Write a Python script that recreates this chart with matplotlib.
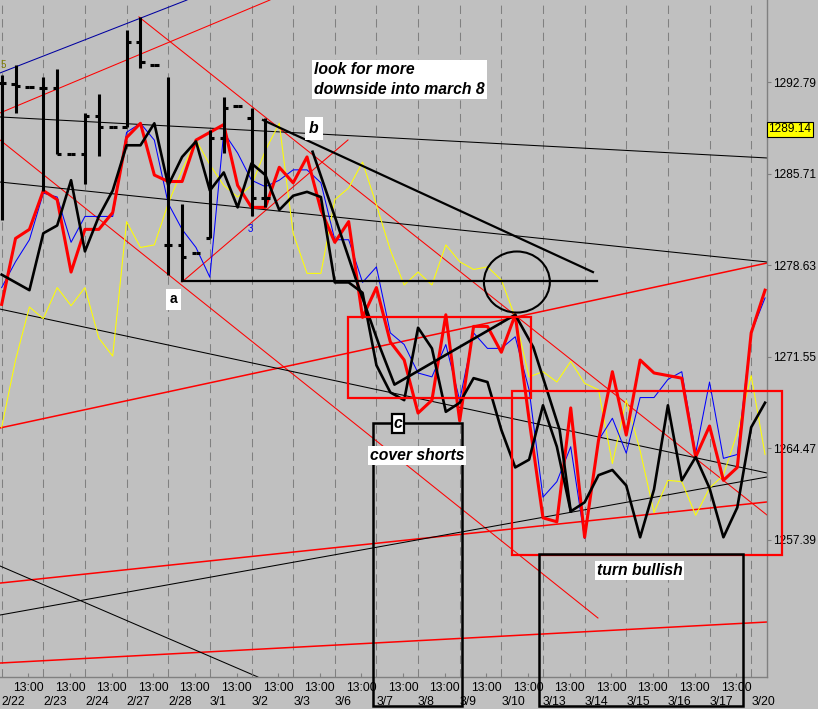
import matplotlib.pyplot as plt
from matplotlib.patches import Rectangle, Ellipse

plt.rcParams['font.family'] = ['Liberation Sans', 'DejaVu Sans']

# trading days, 3 bars per day
days = ['2/22', '2/23', '2/24', '2/27', '2/28', '3/1', '3/2', '3/3', '3/6', '3/7',
        '3/8', '3/9', '3/10', '3/13', '3/14', '3/15', '3/16', '3/17', '3/20']
price_ticks = [1292.79, 1285.71, 1278.63, 1271.55, 1264.47, 1257.39]
last_price = 1289.14

red = [1275.6, 1280.7, 1281.4, 1284.4, 1283.7, 1278.1, 1281.4, 1281.4, 1282.7, 1288.5,
       1289.6, 1285.6, 1285.1, 1285.1, 1288.3, 1288.9, 1289.5, 1284.8, 1283.1, 1283.1,
       1286.2, 1285.0, 1287.0, 1282.9, 1280.4, 1282.0, 1274.6, 1276.9, 1272.7, 1271.3,
       1267.2, 1268.2, 1274.8, 1266.6, 1273.9, 1273.9, 1271.9, 1274.8, 1266.7, 1259.1,
       1258.8, 1267.6, 1257.6, 1265.1, 1270.4, 1265.5, 1271.3, 1270.3, 1270.1, 1269.9,
       1263.8, 1266.2, 1262.0, 1263.0, 1273.4, 1276.7]
blue = [1276.9, 1278.9, 1280.6, 1284.2, 1283.9, 1280.4, 1282.4, 1282.4, 1282.4, 1288.9,
        1289.6, 1288.3, 1283.4, 1281.4, 1280.0, 1277.7, 1288.9, 1287.3, 1285.2, 1284.7,
        1285.2, 1286.0, 1286.0, 1285.0, 1280.6, 1280.6, 1277.3, 1278.5, 1273.4, 1272.5,
        1270.3, 1270.0, 1272.5, 1268.2, 1273.4, 1272.2, 1272.2, 1273.1, 1269.0, 1260.7,
        1261.9, 1264.6, 1257.5, 1265.1, 1266.8, 1264.1, 1268.4, 1268.4, 1269.8, 1270.4,
        1264.1, 1269.6, 1263.7, 1264.0, 1273.4, 1276.1]
black = [1277.9, 1277.3, 1276.7, 1281.1, 1281.7, 1285.2, 1279.7, 1282.4, 1284.4, 1287.9,
         1287.9, 1289.6, 1284.8, 1287.0, 1288.2, 1284.4, 1285.8, 1283.1, 1286.5, 1285.6,
         1282.9, 1284.0, 1284.3, 1283.9, 1277.3, 1277.3, 1276.5, 1270.9, 1268.8, 1268.2,
         1273.8, 1272.2, 1267.3, 1268.0, 1269.9, 1269.6, 1265.9, 1263.0, 1263.6, 1267.8,
         1264.6, 1259.6, 1260.3, 1262.4, 1262.8, 1261.6, 1257.6, 1261.3, 1267.8, 1262.0,
         1263.8, 1261.4, 1257.6, 1259.9, 1266.1, 1268.0]
yellow = [1266.1, 1271.3, 1275.4, 1274.5, 1276.9, 1275.5, 1276.9, 1273.0, 1271.6, 1282.0,
          1280.0, 1280.2, 1283.4, 1286.0, 1288.3, 1286.4, 1284.8, 1283.9, 1284.8, 1287.5,
          1289.6, 1281.1, 1278.0, 1278.0, 1283.7, 1284.6, 1286.6, 1283.3, 1279.8, 1277.1,
          1278.1, 1277.1, 1280.2, 1278.9, 1278.3, 1278.5, 1277.5, 1274.6, 1270.0, 1270.4,
          1269.6, 1271.2, 1269.5, 1269.0, 1263.3, 1268.2, 1264.3, 1259.5, 1262.0, 1261.9,
          1259.3, 1261.4, 1262.4, 1265.7, 1270.1, 1264.0]

# second black line (projection)
proj_x = [22.4, 24.0, 25.6, 27.25, 28.3, 37.0, 38.3, 40.2, 41.0]
proj_y = [1287.4, 1282.4, 1277.3, 1272.3, 1269.4, 1274.8, 1272.3, 1265.9, 1259.6]

# bars at the start of the chart
ohlc_open = [1292.7, 1292.6, 1292.4, 1292.3, 1292.3, 1287.2, 1287.2, 1290.2, 1289.3, 1289.3,
             1295.9, 1294.1, 1280.2, 1280.2, 1279.6, 1280.7, 1288.5, 1290.9, 1290.0, 1283.8]
ohlc_high = [1293.3, 1294.1, 1292.4, 1293.2, 1293.8, 1287.2, 1290.4, 1291.9, 1289.3, 1296.8,
             1297.8, 1294.1, 1293.2, 1283.4, 1279.6, 1289.1, 1291.6, 1290.9, 1290.8, 1290.0]
ohlc_low = [1282.1, 1290.4, 1292.4, 1284.4, 1287.2, 1287.2, 1284.9, 1287.1, 1289.3, 1289.3,
            1293.9, 1294.1, 1277.9, 1277.5, 1279.6, 1280.7, 1287.3, 1290.9, 1282.4, 1283.1]
ohlc_close = [1292.7, 1292.5, 1292.4, 1292.3, 1287.2, 1287.2, 1290.2, 1289.3, 1289.3, 1295.9,
              1294.3, 1294.1, 1280.2, 1279.3, 1279.6, 1288.5, 1290.8, 1290.9, 1283.8, 1283.8]

# hand drawn trend lines: x0, p0, x1, p1
red_lines = [(-0.12, 1290.40, 19.33, 1299.13), (9.89, 1297.82, 55.14, 1259.32),
             (-0.12, 1288.31, 42.96, 1251.36), (12.99, 1277.33, 24.95, 1288.31)]
red_lines_2 = [(-0.12, 1266.05, 55.14, 1278.80), (-0.12, 1254.06, 55.14, 1260.33),
               (-0.12, 1247.88, 55.14, 1251.05)]
black_lines = [(-0.12, 1290.09, 55.14, 1286.92), (-0.12, 1285.06, 55.14, 1278.88),
               (-0.12, 1275.24, 55.14, 1262.57), (-0.12, 1251.59, 55.14, 1262.26),
               (-0.12, 1255.38, 18.46, 1246.80)]
black_thick_lines = [(12.99, 1277.41, 42.89, 1277.41), (18.83, 1289.85, 42.60, 1278.10)]
blue_line = (-0.12, 1293.49, 13.35, 1299.13)

# boxes: x0, p0, x1, p1
red_boxes = [(24.95, 1268.36, 38.13, 1274.63), (36.77, 1256.23, 56.22, 1268.91)]
black_boxes = [(26.75, 1244.56, 33.16, 1266.43), (38.71, 1244.56, 53.41, 1256.31)]

bg = '#c0c0c0'
fig = plt.figure(figsize=(8.18, 7.09), dpi=100, facecolor=bg)
ax = fig.add_axes([0, 32 / 709, 767 / 818, 677 / 709])
ax.set_facecolor(bg)
ax.set_xlim(-0.12, 55.14)
ax.set_ylim(1246.80, 1299.13)

for s in ['top', 'left']:
    ax.spines[s].set_visible(False)
for s in ['right', 'bottom']:
    ax.spines[s].set_color('#808080')
    ax.spines[s].set_linewidth(1)

# day separators
for d in range(len(days)):
    ax.axvline(3 * d, color='#808080', lw=0.75, dashes=(8, 5), zorder=0.5)

for x0, y0, x1, y1 in red_lines:
    ax.plot([x0, x1], [y0, y1], color='red', lw=0.75, zorder=1)
for x0, y0, x1, y1 in red_lines_2:
    ax.plot([x0, x1], [y0, y1], color='red', lw=1.1, zorder=1)
for x0, y0, x1, y1 in black_lines:
    ax.plot([x0, x1], [y0, y1], color='black', lw=0.75, zorder=1)
for x0, y0, x1, y1 in black_thick_lines:
    ax.plot([x0, x1], [y0, y1], color='black', lw=1.6, zorder=6)
ax.plot(blue_line[::2], blue_line[1::2], color='#0000a0', lw=0.75, zorder=1)

idx = list(range(len(red)))
ax.plot(idx, yellow, color='yellow', lw=0.75, zorder=3)
ax.plot(idx, blue, color='blue', lw=0.75, zorder=4)
ax.plot(idx, red, color='red', lw=2.2, zorder=5)
ax.plot(idx, black, color='black', lw=1.9, zorder=6)
ax.plot(proj_x, proj_y, color='black', lw=1.9, zorder=6)

bx = list(range(len(ohlc_high)))
ax.vlines(bx, ohlc_low, ohlc_high, color='black', lw=2.2, zorder=6)
ax.hlines(ohlc_open, [x - 0.3 for x in bx], bx, color='black', lw=2.2, zorder=6)
ax.hlines(ohlc_close, bx, [x + 0.3 for x in bx], color='black', lw=2.2, zorder=6)

for x0, y0, x1, y1 in red_boxes:
    ax.add_patch(Rectangle((x0, y0), x1 - x0, y1 - y0, fill=False, ec='red', lw=1.6,
                           clip_on=False, zorder=7))
for x0, y0, x1, y1 in black_boxes:
    ax.add_patch(Rectangle((x0, y0), x1 - x0, y1 - y0, fill=False, ec='black', lw=1.8,
                           clip_on=False, zorder=7))
ax.add_patch(Ellipse((37.12, 1277.33), 4.75, 4.72, fill=False, ec='black', lw=1.5, zorder=7))

# notes
note = dict(fontsize=11.3, fontweight='bold', fontstyle='italic', zorder=10)
wbox = dict(facecolor='white', edgecolor='none', pad=1.5)
ax.text(22.5, 1294.3, 'look for more\ndownside into march 8', ha='left', va='top',
        linespacing=1.35, bbox=wbox, **note)
ax.text(22.5, 1289.2, 'b', ha='center', va='center', bbox=dict(wbox, pad=3), **note)
ax.text(29.92, 1263.9, 'cover shorts', ha='center', va='center', bbox=wbox, **note)
ax.text(45.95, 1255.0, 'turn bullish', ha='center', va='center', bbox=wbox, **note)
ax.text(28.55, 1266.36, 'c', ha='center', va='center',
        bbox=dict(facecolor='white', edgecolor='black', lw=1.6, pad=1.5), **note)
ax.text(12.38, 1276.0, 'a', ha='center', va='center', fontsize=10, fontweight='bold',
        bbox=dict(facecolor='white', edgecolor='none', pad=2.5), zorder=10)
ax.text(17.9, 1281.4, '3', ha='center', va='center', fontsize=7, color='blue', zorder=8)
ax.text(-0.1, 1294.1, '5', ha='left', va='center', fontsize=7, color='#808000', zorder=8)

# x axis: 13:00 and dates
ax.set_xticks([3 * d + 1.92 for d in range(len(days) - 1)])
ax.set_xticklabels(['13:00'] * (len(days) - 1))
ax.set_xticks([3 * d for d in range(len(days))], minor=True)
ax.set_xticklabels(days, minor=True)
for lab in ax.get_xticklabels(minor=True):
    lab.set_ha('left')
ax.tick_params(axis='x', which='both', direction='in', length=3, color='#808080',
               labelsize=8.8)
ax.tick_params(axis='x', which='major', pad=3.5)
ax.tick_params(axis='x', which='minor', pad=14)

# price axis
ax.yaxis.tick_right()
ax.set_yticks(price_ticks)
ax.set_yticklabels(['%.2f' % p for p in price_ticks])
ax.tick_params(axis='y', direction='out', length=3, color='#808080', labelsize=8.6, pad=1.5)
ax.text(1.002, last_price, '%.2f' % last_price, transform=ax.get_yaxis_transform(),
        ha='left', va='center', fontsize=8.6, clip_on=False, zorder=10,
        bbox=dict(facecolor='yellow', edgecolor='black', lw=0.8, pad=1.2))

plt.savefig('out.png', dpi=100, facecolor=bg)
